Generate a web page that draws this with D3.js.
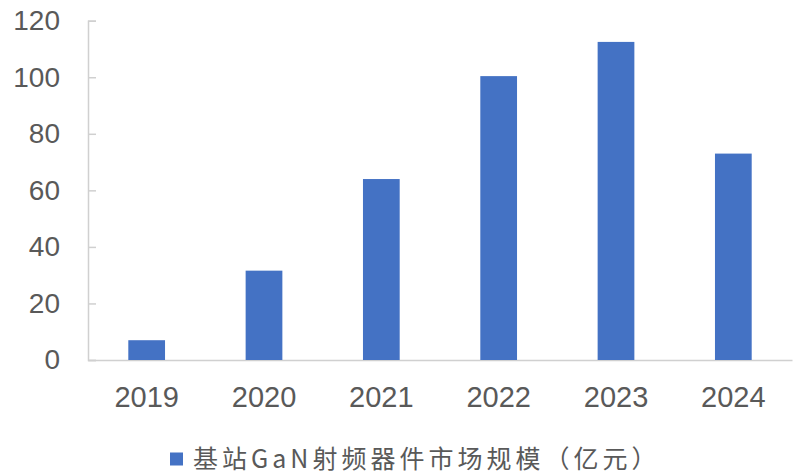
<!DOCTYPE html>
<html>
<head>
<meta charset="utf-8">
<script src="https://cdn.jsdelivr.net/npm/d3@7"></script>
<style>
  body { margin: 0; background: #fff; }
</style>
</head>
<body>
<div id="chart"></div>
<script>
const years = ["2019", "2020", "2021", "2022", "2023", "2024"];
const market = [7, 31.6, 64, 100.4, 112.5, 73];
const yTicks = [0, 20, 40, 60, 80, 100, 120];
const legendLabel = "基站GaN射频器件市场规模（亿元）";

const W = 800, H = 476;
const MARGIN = { TOP: 20.7, BOTTOM: 116, LEFT: 88, RIGHT: 8 };
const WIDTH = W - MARGIN.LEFT - MARGIN.RIGHT;
const HEIGHT = H - MARGIN.TOP - MARGIN.BOTTOM;

const svg = d3.select("#chart")
  .append("svg")
    .attr("width", W)
    .attr("height", H)
  .append("g")
    .attr("transform", `translate(${MARGIN.LEFT}, ${MARGIN.TOP})`);

const x = d3.scaleBand()
  .domain(years)
  .range([0, WIDTH])
  .paddingInner(0.687)
  .paddingOuter(0.3435);

const y = d3.scaleLinear()
  .domain([0, 120])
  .range([HEIGHT, 0]);

// y axis: ticks point inward, labels pushed left
const yAxis = svg.append("g")
  .call(d3.axisLeft(y).tickValues(yTicks).tickSize(-8).tickPadding(28));
yAxis.select(".domain").attr("stroke", "#d0d0d0").attr("stroke-width", 1.5);
yAxis.selectAll(".tick line").attr("stroke", "#d0d0d0").attr("stroke-width", 1.5);
yAxis.selectAll(".tick text")
  .attr("fill", "#595959")
  .style("font", "28px 'Liberation Sans', Arial, sans-serif");

// x axis: baseline only, no ticks
const xAxis = svg.append("g")
  .attr("transform", `translate(0, ${HEIGHT})`)
  .call(d3.axisBottom(x).tickSize(0).tickPadding(26).tickSizeOuter(0));
xAxis.select(".domain").attr("stroke", "#d0d0d0").attr("stroke-width", 1.5);
xAxis.selectAll(".tick text")
  .attr("fill", "#595959")
  .style("font", "29px 'Liberation Sans', Arial, sans-serif");

svg.selectAll("rect.bar")
  .data(years.map((d, i) => ({ year: d, value: market[i] })))
  .enter().append("rect")
    .attr("class", "bar")
    .attr("x", d => x(d.year))
    .attr("y", d => y(d.value))
    .attr("width", x.bandwidth())
    .attr("height", d => HEIGHT - y(d.value))
    .attr("fill", "#4472C4");

// legend
const legend = svg.append("g")
  .attr("transform", `translate(${170 - MARGIN.LEFT}, ${459 - MARGIN.TOP})`);
legend.append("rect")
  .attr("x", 0)
  .attr("y", -6.5)
  .attr("width", 13)
  .attr("height", 13)
  .attr("fill", "#4472C4");
legend.append("text")
  .attr("x", 23)
  .attr("y", 0)
  .attr("dy", "0.36em")
  .attr("fill", "#595959")
  .style("font", "25px 'Noto Sans CJK SC', sans-serif")
  .style("letter-spacing", "4px")
  .text(legendLabel);
</script>
</body>
</html>
